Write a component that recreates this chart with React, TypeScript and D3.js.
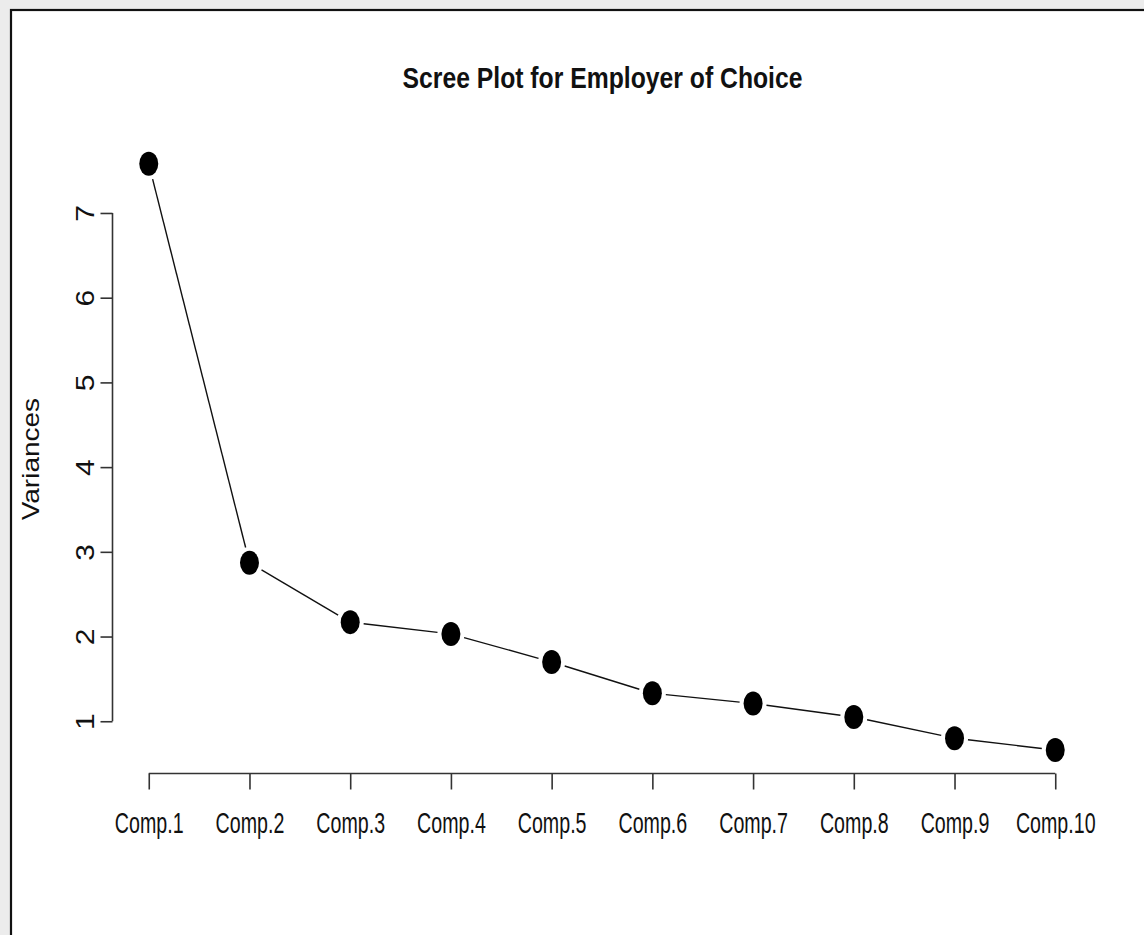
import React, { useEffect, useRef } from 'react';
import { select, scaleLinear, scalePoint, axisLeft, axisBottom, extent } from 'd3';

const components = ['Comp.1', 'Comp.2', 'Comp.3', 'Comp.4', 'Comp.5', 'Comp.6', 'Comp.7', 'Comp.8', 'Comp.9', 'Comp.10'];
const variances = [7.58, 2.87, 2.17, 2.03, 1.70, 1.33, 1.21, 1.05, 0.80, 0.66];
const yTicks = [1, 2, 3, 4, 5, 6, 7];
const title = 'Scree Plot for Employer of Choice';
const yLabel = 'Variances';

const W = 1144;
const H = 935;
const font = '"Liberation Sans", Arial, sans-serif';

function App() {
  const svgRef = useRef<SVGSVGElement>(null);

  useEffect(() => {
    const svg = select(svgRef.current);
    svg.selectAll('*').remove();

    // window frame like the screenshot
    svg.append('rect').attr('width', W).attr('height', H).attr('fill', '#ececec');
    svg.append('rect')
      .attr('x', 11).attr('y', 10)
      .attr('width', W).attr('height', H)
      .attr('fill', '#fff').attr('stroke', '#111').attr('stroke-width', 2.2);

    // plot region (R style: 4% extension on each side)
    const left = 112.5, right = 1091.5, top = 140.4, bottom = 773.5;

    const x = scalePoint<string>().domain(components).range([left, right]).padding(0.36);
    const [lo, hi] = extent(variances) as [number, number];
    const pad = (hi - lo) * 0.04;
    const y = scaleLinear().domain([lo - pad, hi + pad]).range([bottom, top]);

    // y axis
    const yAxis = svg.append('g')
      .attr('transform', `translate(${left},0)`)
      .call(axisLeft(y).tickValues(yTicks).tickSize(12).tickSizeOuter(0).tickFormat((d: any) => String(d)));
    yAxis.select('.domain').remove();
    yAxis.selectAll('.tick line').attr('stroke', '#333').attr('stroke-width', 1.6);
    yAxis.selectAll('.tick text')
      .attr('x', null).attr('dy', null).attr('y', null)
      .attr('text-anchor', 'middle')
      .attr('font-family', font).attr('font-size', 30).attr('fill', '#111')
      .attr('transform', 'translate(-19,0) rotate(-90) scale(1,0.87)');
    yAxis.append('line')
      .attr('x1', 0).attr('x2', 0)
      .attr('y1', y(yTicks[0])).attr('y2', y(yTicks[yTicks.length - 1]))
      .attr('stroke', '#333').attr('stroke-width', 1.6);

    // x axis
    const xAxis = svg.append('g')
      .attr('transform', `translate(0,${bottom})`)
      .call(axisBottom(x).tickSize(16).tickSizeOuter(0));
    xAxis.select('.domain').remove();
    xAxis.selectAll('.tick line').attr('stroke', '#333').attr('stroke-width', 1.6);
    xAxis.selectAll('.tick text')
      .attr('dy', null).attr('y', 59.5)
      .attr('font-family', font).attr('font-size', 30).attr('fill', '#111')
      .attr('transform', 'scale(0.655,1)');
    xAxis.append('line')
      .attr('x1', x(components[0])).attr('x2', x(components[components.length - 1]))
      .attr('y1', 0).attr('y2', 0)
      .attr('stroke', '#333').attr('stroke-width', 1.6);

    // points
    const rx = 9.5, ry = 12, gap = 4;
    const pts = variances.map((v, i) => [x(components[i]) as number, y(v)]);

    // connecting segments with gaps (type = "b")
    const reach = (dx: number, dy: number) => {
      const L = Math.hypot(dx, dy);
      const c = dx / L, s = dy / L;
      return 1 / Math.sqrt((c / rx) ** 2 + (s / ry) ** 2) + gap;
    };
    svg.append('g')
      .selectAll('line')
      .data(pts.slice(1).map((p, i) => [pts[i], p]))
      .join('line')
      .each(function ([a, b]) {
        const dx = b[0] - a[0], dy = b[1] - a[1];
        const L = Math.hypot(dx, dy);
        const r = reach(dx, dy);
        select(this)
          .attr('x1', a[0] + (dx / L) * r).attr('y1', a[1] + (dy / L) * r)
          .attr('x2', b[0] - (dx / L) * r).attr('y2', b[1] - (dy / L) * r);
      })
      .attr('stroke', '#111').attr('stroke-width', 1.4);

    svg.append('g')
      .selectAll('ellipse')
      .data(pts)
      .join('ellipse')
      .attr('cx', d => d[0]).attr('cy', d => d[1])
      .attr('rx', rx).attr('ry', ry)
      .attr('fill', '#000');

    // title
    svg.append('text')
      .attr('x', (left + right) / 2 + 0.5).attr('y', 88)
      .attr('text-anchor', 'middle')
      .attr('font-family', font).attr('font-weight', 'bold').attr('font-size', 30)
      .attr('textLength', 400).attr('lengthAdjust', 'spacingAndGlyphs')
      .attr('fill', '#111')
      .text(title);

    // y label
    svg.append('text')
      .attr('transform', `translate(39,${(y(1) + y(7)) / 2 - 8}) rotate(-90) scale(1,0.87)`)
      .attr('text-anchor', 'middle')
      .attr('font-family', font).attr('font-size', 28)
      .attr('fill', '#111')
      .text(yLabel);
  }, []);

  return (
    <div style={{ position: 'absolute', left: 0, top: 0 }}>
      <svg ref={svgRef} width={W} height={H} style={{ display: 'block' }} />
    </div>
  );
}

export default App;
